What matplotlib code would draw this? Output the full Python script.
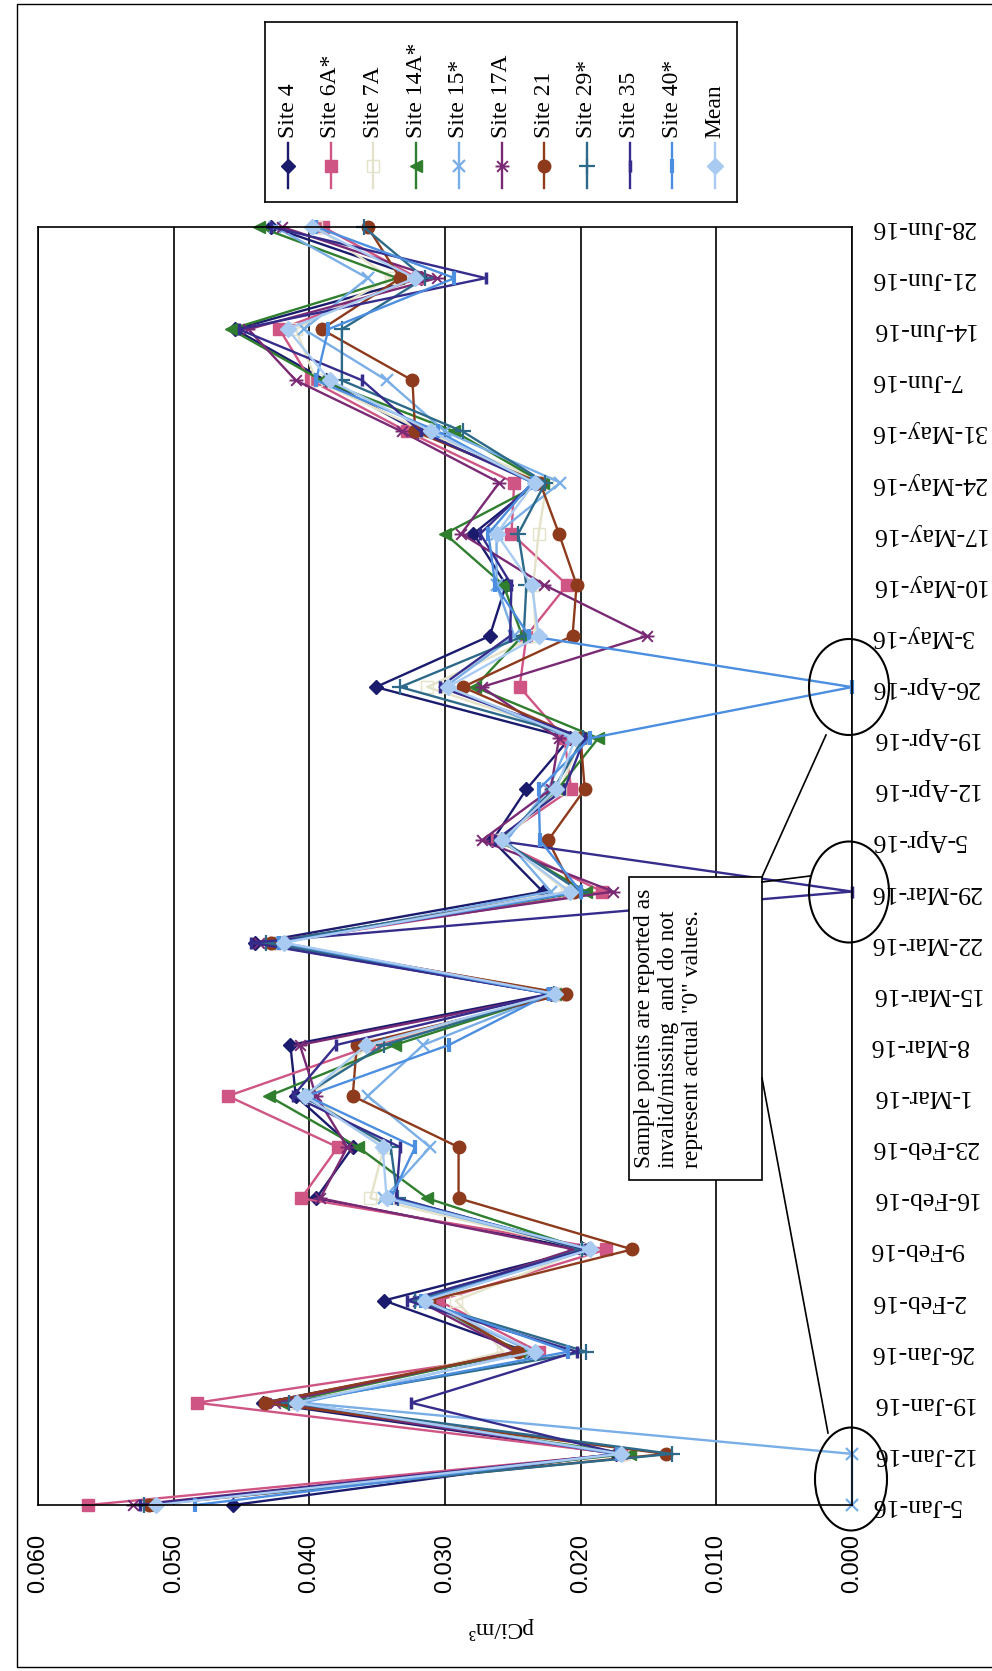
import numpy as np
import matplotlib.pyplot as plt
from matplotlib.path import Path
from matplotlib.patches import Ellipse, Rectangle

# weekly air samples, pCi/m3 (0 = invalid/missing sample)
dates = ['5-Jan-16', '12-Jan-16', '19-Jan-16', '26-Jan-16', '2-Feb-16', '9-Feb-16',
         '16-Feb-16', '23-Feb-16', '1-Mar-16', '8-Mar-16', '15-Mar-16', '22-Mar-16',
         '29-Mar-16', '5-Apr-16', '12-Apr-16', '19-Apr-16', '26-Apr-16', '3-May-16',
         '10-May-16', '17-May-16', '24-May-16', '31-May-16', '7-Jun-16', '14-Jun-16',
         '21-Jun-16', '28-Jun-16']

site_4 = [0.0456, 0.0174, 0.0434, 0.0240, 0.0345, 0.0198, 0.0395, 0.0368, 0.0410, 0.0414,
          0.0222, 0.0440, 0.0228, 0.0265, 0.0240, 0.0208, 0.0351, 0.0267, 0.0255, 0.0279,
          0.0232, 0.0320, 0.0388, 0.0455, 0.0318, 0.0428]
site_6a = [0.0563, 0.0170, 0.0483, 0.0231, 0.0305, 0.0181, 0.0406, 0.0379, 0.0460, 0.0352,
           0.0214, 0.0425, 0.0184, 0.0262, 0.0207, 0.0212, 0.0245, 0.0240, 0.0210, 0.0251,
           0.0249, 0.0328, 0.0399, 0.0422, 0.0320, 0.0390]
site_7a = [0.0515, 0.0168, 0.0412, 0.0257, 0.0292, 0.0196, 0.0355, 0.0345, 0.0400, 0.0355,
           0.0218, 0.0425, 0.0210, 0.0258, 0.0215, 0.0200, 0.0313, 0.0233, 0.0235, 0.0231,
           0.0225, 0.0315, 0.0395, 0.0410, 0.0340, 0.0395]
site_14a = [0.0520, 0.0164, 0.0420, 0.0245, 0.0315, 0.0197, 0.0313, 0.0364, 0.0430, 0.0337,
            0.0219, 0.0430, 0.0196, 0.0260, 0.0217, 0.0187, 0.0278, 0.0243, 0.0257, 0.0300,
            0.0228, 0.0293, 0.0391, 0.0458, 0.0335, 0.0437]
site_15 = [0.0, 0.0, 0.0405, 0.0236, 0.0318, 0.0195, 0.0345, 0.0311, 0.0357, 0.0316,
           0.0221, 0.0420, 0.0222, 0.0255, 0.0224, 0.0207, 0.0300, 0.0249, 0.0262, 0.0262,
           0.0215, 0.0300, 0.0343, 0.0404, 0.0357, 0.0425]
site_17a = [0.0530, 0.0172, 0.0425, 0.0248, 0.0320, 0.0205, 0.0392, 0.0372, 0.0395, 0.0407,
            0.0217, 0.0437, 0.0176, 0.0273, 0.0222, 0.0216, 0.0273, 0.0151, 0.0227, 0.0288,
            0.0260, 0.0332, 0.0410, 0.0445, 0.0306, 0.0420]
site_21 = [0.0518, 0.0137, 0.0433, 0.0246, 0.0312, 0.0162, 0.0290, 0.0290, 0.0368, 0.0365,
           0.0211, 0.0428, 0.0205, 0.0224, 0.0197, 0.0200, 0.0287, 0.0206, 0.0203, 0.0216,
           0.0230, 0.0322, 0.0324, 0.0391, 0.0333, 0.0357]
site_29 = [0.0522, 0.0133, 0.0415, 0.0196, 0.0322, 0.0199, 0.0335, 0.0340, 0.0405, 0.0345,
           0.0220, 0.0432, 0.0200, 0.0258, 0.0220, 0.0198, 0.0333, 0.0242, 0.0240, 0.0246,
           0.0226, 0.0287, 0.0376, 0.0376, 0.0315, 0.0360]
site_35 = [0.0525, 0.0170, 0.0325, 0.0203, 0.0328, 0.0196, 0.0336, 0.0333, 0.0412, 0.0380,
           0.0222, 0.0443, 0.0, 0.0263, 0.0212, 0.0197, 0.0304, 0.0252, 0.0251, 0.0274,
           0.0235, 0.0318, 0.0361, 0.0452, 0.0270, 0.0428]
site_40 = [0.0484, 0.0173, 0.0410, 0.0209, 0.0318, 0.0193, 0.0340, 0.0322, 0.0402, 0.0297,
           0.0223, 0.0422, 0.0200, 0.0230, 0.0231, 0.0193, 0.0, 0.0238, 0.0263, 0.0268,
           0.0236, 0.0305, 0.0395, 0.0386, 0.0293, 0.0395]
mean = [0.0513, 0.0170, 0.0409, 0.0234, 0.0315, 0.0193, 0.0343, 0.0346, 0.0403, 0.0358,
        0.0219, 0.0419, 0.0208, 0.0258, 0.0218, 0.0204, 0.0298, 0.0231, 0.0236, 0.0262,
        0.0234, 0.0310, 0.0385, 0.0416, 0.0322, 0.0398]

names = ['Site 4', 'Site 6A*', 'Site 7A', 'Site 14A*', 'Site 15*', 'Site 17A',
         'Site 21', 'Site 29*', 'Site 35', 'Site 40*', 'Mean']
values = [site_4, site_6a, site_7a, site_14a, site_15, site_17a,
          site_21, site_29, site_35, site_40, mean]

# asterisk marker: an x with a cross bar
star = Path([(-1, -1), (1, 1), (-1, 1), (1, -1), (-1.3, 0), (1.3, 0)],
            [Path.MOVETO, Path.LINETO, Path.MOVETO, Path.LINETO, Path.MOVETO, Path.LINETO])

styles = [
    dict(color='#1B1B6E', marker='D', ms=7),
    dict(color='#CF5584', marker='s', ms=9),
    dict(color='#E4E2C8', marker='s', ms=8, mfc='none'),
    dict(color='#2F7F2F', marker='<', ms=9),
    dict(color='#79AEE6', marker='x', ms=9, mew=1.6),
    dict(color='#7A2A74', marker=star, ms=10, mew=1.4),
    dict(color='#8E3A1C', marker='o', ms=9),
    dict(color='#2D6A8A', marker='+', ms=11, mew=1.6),
    dict(color='#362C8C', marker='|', ms=9, mew=2.5),
    dict(color='#4C8FE0', marker='|', ms=10, mew=3),
    dict(color='#A9CBF2', marker='D', ms=8),
]

W, H = 992, 1671
fig = plt.figure(figsize=(W / 100, H / 100), dpi=100)


def fbox(x0, y0, x1, y1):
    return [x0 / W, 1 - y1 / H, (x1 - x0) / W, (y1 - y0) / H]


ax = fig.add_axes(fbox(38, 227, 852, 1505))
idx = np.arange(len(dates))
for name, vals, st in zip(names, values, styles):
    ax.plot(vals, idx, lw=1.7, clip_on=False, label=name, **st)

ax.set_xlim(0.06, 0.0)
ax.set_ylim(0, len(dates) - 1)
xt = np.arange(0, 0.0601, 0.01)
ax.set_xticks(xt)
ax.set_xticklabels(['%.3f' % v for v in xt], rotation=90,
                   fontfamily='Liberation Sans', fontsize=17)
ax.xaxis.grid(True, color='black', lw=1.2)
ax.set_axisbelow(True)
ax.tick_params(axis='x', length=0, pad=21)
ax.yaxis.tick_right()
ax.set_yticks(idx)
ax.set_yticklabels(dates, rotation=180, fontfamily='Liberation Serif',
                   fontsize=18.5, va='center')
ax.tick_params(axis='y', length=0, pad=13)
for s in ax.spines.values():
    s.set_linewidth(1.2)

fig.text(501 / W, 1 - 1628 / H, 'pCi/m³', rotation=180, ha='center', va='center',
         fontfamily='Liberation Serif', fontsize=17)

# legend, drawn as vertical entries
lg = fig.add_axes(fbox(265, 22, 737, 202))
lg.set_xlim(265, 737)
lg.set_ylim(202, 22)
lg.set_xticks([])
lg.set_yticks([])
for s in lg.spines.values():
    s.set_linewidth(1.2)
leg_x = np.linspace(288, 715, len(names))
for x, name, st in zip(leg_x, names, styles):
    lg.plot([x, x], [143, 188], color=st['color'], lw=1.7)
    lg.plot([x], [166], ls='none', **st)
    lg.text(x, 138, name, rotation=90, ha='center', va='bottom',
            fontfamily='Liberation Serif', fontsize=17)

# note and callouts for the zero points
ov = fig.add_axes([0, 0, 1, 1])
ov.set_xlim(0, W)
ov.set_ylim(H, 0)
ov.axis('off')
# chart frame: top, left and bottom edges
ov.plot([992, 17, 17, 992], [4, 4, 1667, 1667], color='black', lw=1)
for cx, cy, ew, eh in [(851, 1479, 72, 103), (849, 892, 80, 101), (849, 687, 80, 96)]:
    ov.add_patch(Ellipse((cx, cy), ew, eh, fill=False, ec='black', lw=1.5))
ov.plot([762, 826], [877, 735], color='black', lw=1.2)
ov.plot([762, 810], [882, 876], color='black', lw=1.2)
ov.plot([762, 828], [1078, 1433], color='black', lw=1.2)
ov.add_patch(Rectangle((629, 877), 133, 303, fc='white', ec='black', lw=1.2))
ov.text(634, 1168, 'Sample points are reported as\ninvalid/missing  and do not\nrepresent actual "0" values.',
        rotation=90, rotation_mode='anchor', ha='left', va='top', multialignment='left',
        fontfamily='Liberation Serif', fontsize=17, linespacing=1.18)

fig.savefig('out.png', dpi=100)
